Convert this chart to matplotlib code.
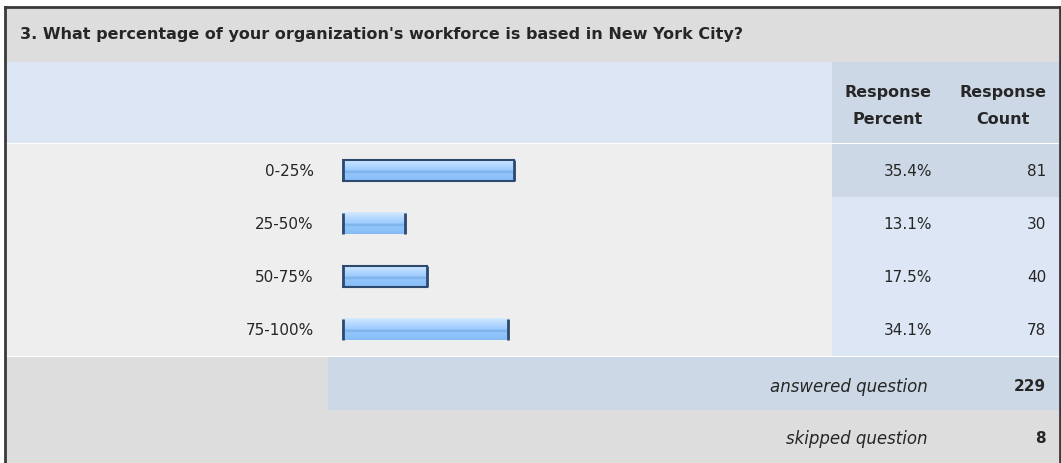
import matplotlib
matplotlib.use("Agg")
import matplotlib.pyplot as plt
import numpy as np
from matplotlib.patches import Rectangle
from matplotlib.colors import LinearSegmentedColormap

plt.rcParams['font.family'] = ['DejaVu Sans']

question = "3. What percentage of your organization's workforce is based in New York City?"
categories = ['0-25%', '25-50%', '50-75%', '75-100%']
percents = [35.4, 13.1, 17.5, 34.1]
counts = [81, 30, 40, 78]
answered = 229
skipped = 8

W, H = 1061, 464
fig = plt.figure(figsize=(W / 100, H / 100), dpi=100)

# background "table" drawn in pixel coordinates
bg = fig.add_axes([0, 0, 1, 1])
bg.set_xlim(0, W)
bg.set_ylim(H, 0)
bg.axis('off')

def box(x0, y0, x1, y1, color):
    bg.add_patch(Rectangle((x0, y0), x1 - x0, y1 - y0, facecolor=color, edgecolor='none', zorder=0))

gray = '#dddddd'
light_blue = '#dce6f4'
mid_blue = '#cdd8e6'
row_bg = '#eeeeee'
ink = '#262626'

box(5, 8, 1060, 63, gray)                 # title band
box(5, 63, 832, 144, light_blue)          # header left
box(832, 63, 1060, 144, mid_blue)         # header right
box(5, 145, 832, 357, row_bg)             # rows
box(832, 145, 1060, 357, light_blue)      # data columns
box(832, 145, 1060, 198, mid_blue)        # first row highlight
box(5, 358, 1060, 464, gray)              # footer
box(328, 358, 1060, 411, mid_blue)        # answered band

# outer frame
bg.plot([5, 1060], [8, 8], color='#3a3a3a', lw=2, zorder=5)
bg.plot([5, 5], [8, 464], color='#3a3a3a', lw=2, zorder=5)
bg.plot([1060, 1060], [8, 464], color='#3a3a3a', lw=2, zorder=5)

bg.text(20, 34, question, fontsize=11.5, fontweight='bold', color=ink, va='center', ha='left')

for cx, word in [(888, 'Percent'), (1003, 'Count')]:
    bg.text(cx, 93, 'Response', fontsize=11.5, fontweight='bold', color=ink, ha='center', va='center')
    bg.text(cx, 120, word, fontsize=11.5, fontweight='bold', color=ink, ha='center', va='center')

row_y = [172, 225, 278, 331]
for y, cat, p, c in zip(row_y, categories, percents, counts):
    bg.text(314, y, cat, fontsize=11, color=ink, ha='right', va='center')
    bg.text(932, y, f'{p:.1f}%', fontsize=11, color=ink, ha='right', va='center')
    bg.text(1046, y, str(c), fontsize=11, color=ink, ha='right', va='center')

bg.text(928, 387, 'answered question', fontsize=12, style='italic', color=ink, ha='right', va='center')
bg.text(1046, 387, str(answered), fontsize=11, fontweight='bold', color=ink, ha='right', va='center')
bg.text(928, 439, 'skipped question', fontsize=12, style='italic', color=ink, ha='right', va='center')
bg.text(1046, 439, str(skipped), fontsize=11, fontweight='bold', color=ink, ha='right', va='center')

# bar area: 0..100 % over pixel 342..831, rows 145..357
ax = fig.add_axes([342 / W, (H - 357) / H, (831 - 342) / W, (357 - 145) / H])
ax.axis('off')
ax.patch.set_alpha(0)

grad = LinearSegmentedColormap.from_list('bar', [
    (0.0, '#d4eaff'), (0.25, '#b6d9ff'), (0.5, '#9ccbff'),
    (0.58, '#78aee8'), (0.68, '#92c5fb'), (1.0, '#86bcf6')])
g = np.linspace(0, 1, 64).reshape(-1, 1)
bh = 0.41
edge = '#2d4a6e'
full_border = [True, False, True, False]
for i, (p, fb) in enumerate(zip(percents, full_border)):
    ax.imshow(g, cmap=grad, aspect='auto', origin='upper',
              extent=[0, p, i + bh / 2, i - bh / 2], zorder=2)
    ax.vlines([0.15, p - 0.15], i - bh / 2, i + bh / 2, color=edge, lw=2, zorder=3)
    if fb:
        ax.hlines([i - bh / 2, i + bh / 2], 0, p, color=edge, lw=1.5, zorder=3)
ax.set_xlim(0, 100)
ax.set_ylim(len(categories) - 0.5, -0.5)

fig.savefig('out.png', dpi=100)
